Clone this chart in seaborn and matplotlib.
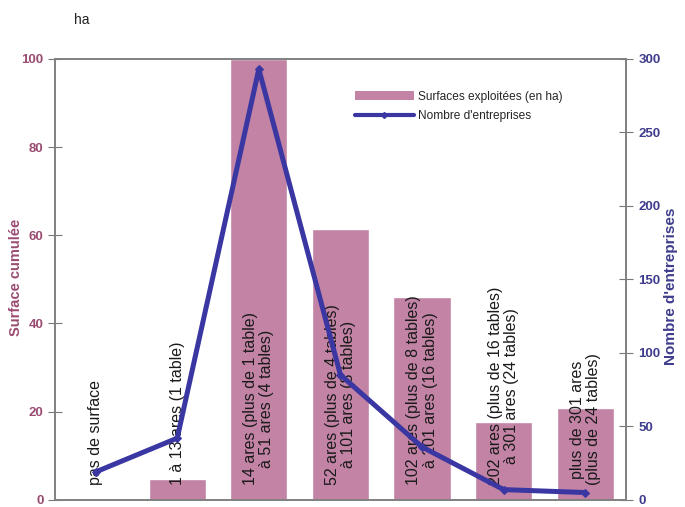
import numpy as np
import pandas as pd
import matplotlib
matplotlib.use("Agg")
import matplotlib.pyplot as plt
import seaborn as sns
from matplotlib.patches import Patch
from matplotlib.lines import Line2D

sns.set_style("white")
plt.rcParams["font.family"] = ["Liberation Sans", "DejaVu Sans"]

categories = [
    "pas de surface",
    "1 à 13 ares (1 table)",
    "14 ares (plus de 1 table)\nà 51 ares (4 tables)",
    "52 ares (plus de 4 tables)\nà 101 ares (8 tables)",
    "102 ares (plus de 8 tables)\nà 201 ares (16 tables)",
    "202 ares (plus de 16 tables)\nà 301 ares (24 tables)",
    "plus de 301 ares\n(plus de 24 tables)",
]
surfaces = [0, 4.8, 100, 61.5, 46, 17.6, 20.8]
entreprises = [19, 42, 293, 85, 36, 7, 5]

bar_color = "#C283A5"
line_color = "#3A36A2"
left_color = "#9A4B72"
right_color = "#3E3C8C"

df = pd.DataFrame({"cat": categories, "surf": surfaces, "nb": entreprises,
                   "pos": np.arange(len(categories))})

fig = plt.figure(figsize=(6.85, 5.07), dpi=100)
ax = fig.add_axes([0.080, 0.014, 0.834, 0.870])

sns.barplot(data=df, x="cat", y="surf", color=bar_color, width=0.7,
            saturation=1, ax=ax, order=categories)
ax.set_xlim(-0.5, len(categories) - 0.5)
ax.set_ylim(0, 100)
ax.set_yticks([0, 20, 40, 60, 80, 100])
ax.set_xticks([])
ax.set_xlabel("")
ax.set_ylabel("Surface cumulée", color=left_color, fontsize=10.5, fontweight="bold")
ax.yaxis.set_label_coords(-0.056, 0.505)
ax.tick_params(axis="y", direction="inout", length=10, width=0.8, colors="#777777",
               labelcolor=left_color, labelsize=9.5, pad=3)
for lab in ax.get_yticklabels():
    lab.set_fontweight("bold")

ax2 = ax.twinx()
sns.lineplot(data=df, x="pos", y="nb", color=line_color, linewidth=3.6,
             marker="D", markersize=4, markeredgecolor=line_color, ax=ax2)
ax2.set_ylim(0, 300)
ax2.set_xlim(-0.5, len(categories) - 0.5)
ax2.set_yticks([0, 50, 100, 150, 200, 250, 300])
ax2.set_ylabel("Nombre d'entreprises", color=right_color, fontsize=11, fontweight="bold")
ax2.yaxis.set_label_coords(1.067, 0.485)
ax2.set_xlabel("")
ax2.tick_params(axis="y", direction="inout", length=10, width=0.8, colors="#777777",
                labelcolor=right_color, labelsize=9.5, pad=4)
for lab in ax2.get_yticklabels():
    lab.set_fontweight("bold")

for a in (ax, ax2):
    for s in a.spines.values():
        s.set_color("#808080")
        s.set_linewidth(1.2)

# category labels written vertically above the baseline
for i, c in enumerate(categories):
    ax.text(i, 3.3, c, rotation=90, ha="center", va="bottom", fontsize=11.5,
            color="#1a1a1a", linespacing=1.1, zorder=10)

ax2.set_zorder(ax.get_zorder() + 1)
ax2.patch.set_visible(False)

handles = [Patch(facecolor=bar_color, edgecolor="none"),
           Line2D([0], [0], color=line_color, linewidth=3, marker="D", markersize=3)]
fig.legend(handles, ["Surfaces exploitées (en ha)", "Nombre d'entreprises"],
           loc="upper left", bbox_to_anchor=(0.502, 0.842), frameon=False,
           fontsize=8.6, handlelength=5.0, handletextpad=0.3, labelspacing=0.6)

fig.text(0.108, 0.960, "ha", fontsize=10, color="#222222", ha="left", va="center")

fig.savefig("out.png", dpi=100)
